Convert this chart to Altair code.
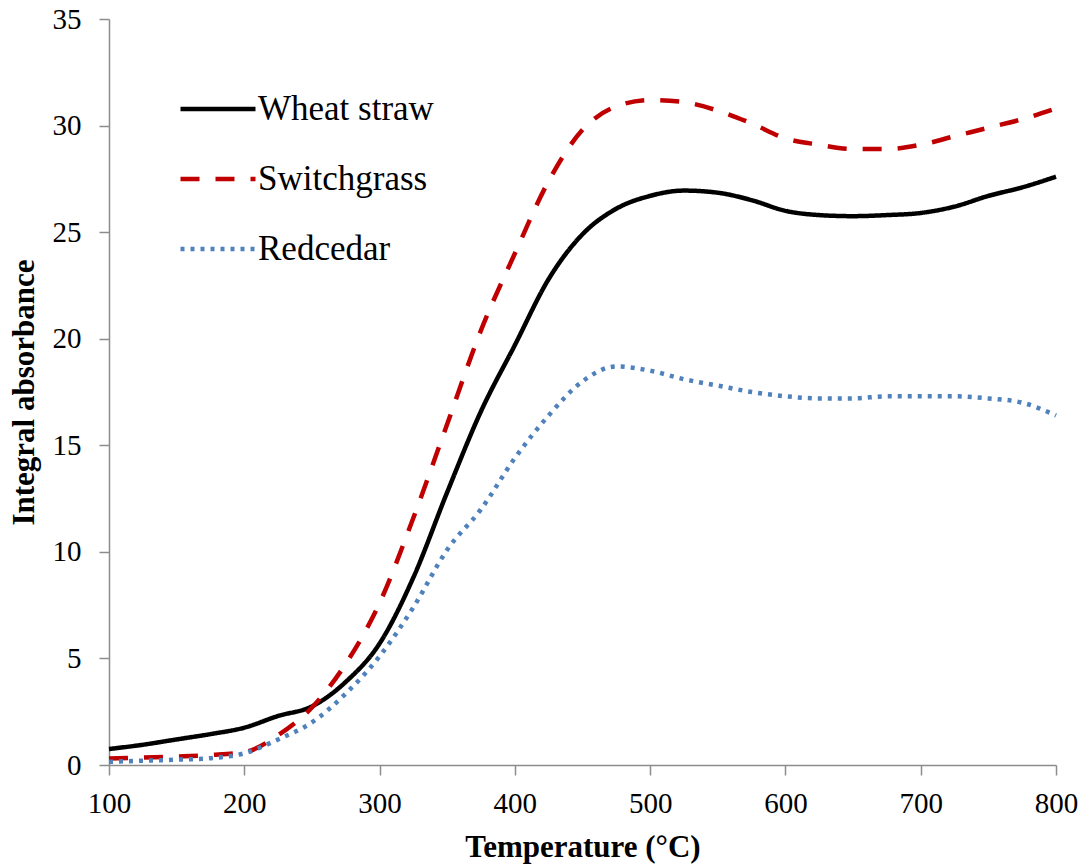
import altair as alt
import pandas as pd

# Temperature grid (°C)
temps = [100, 125, 150, 175, 200, 225, 250, 275, 300, 325, 350, 375, 400, 425,
         450, 475, 500, 525, 550, 575, 600, 625, 650, 675, 700, 725, 750, 775, 800]

# Integral absorbance per feedstock
wheat_straw = [0.75, 0.95, 1.2, 1.45, 1.75, 2.3, 2.75, 3.9, 5.7, 8.8, 12.8, 16.6,
               19.7, 22.8, 24.9, 26.1, 26.7, 26.95, 26.85, 26.5, 26.0, 25.8, 25.75,
               25.8, 25.9, 26.2, 26.7, 27.1, 27.6]
switchgrass = [0.3, 0.35, 0.4, 0.47, 0.6, 1.4, 2.7, 4.75, 7.6, 11.6, 16.0, 20.4,
               24.0, 27.4, 29.8, 30.9, 31.2, 31.1, 30.7, 30.1, 29.4, 29.1, 28.9,
               28.9, 29.1, 29.5, 29.9, 30.3, 30.8]
redcedar = [0.15, 0.2, 0.25, 0.32, 0.55, 1.2, 2.0, 3.35, 5.1, 7.4, 10.1, 12.0,
            14.4, 16.4, 18.0, 18.7, 18.5, 18.1, 17.8, 17.5, 17.3, 17.2, 17.2,
            17.3, 17.3, 17.3, 17.2, 17.0, 16.4]

series_names = ["Wheat straw", "Switchgrass", "Redcedar"]
series_colors = ["#000000", "#C00000", "#4F81BD"]
series_dashes = [[1, 0], [19, 16], [4, 6]]

rows = []
for name, vals in zip(series_names, [wheat_straw, switchgrass, redcedar]):
    for t, v in zip(temps, vals):
        rows.append({"Temperature": t, "Absorbance": v, "Sample": name})
df = pd.DataFrame(rows)

FONT = "Liberation Serif"

chart = alt.Chart(df).mark_line(
    strokeWidth=4.5, strokeCap="butt", interpolate="monotone"
).encode(
    x=alt.X("Temperature:Q",
            scale=alt.Scale(domain=[100, 800], nice=False, zero=False),
            axis=alt.Axis(title="Temperature (°C)", values=list(range(100, 801, 100)),
                          grid=False, tickSize=10, labelPadding=14, labelFlush=False,
                          titlePadding=14)),
    y=alt.Y("Absorbance:Q",
            scale=alt.Scale(domain=[0, 35], nice=False),
            axis=alt.Axis(title="Integral absorbance", values=list(range(0, 36, 5)),
                          grid=False, tickSize=10, labelPadding=18,
                          titlePadding=12)),
    color=alt.Color("Sample:N",
                    scale=alt.Scale(domain=series_names, range=series_colors),
                    legend=alt.Legend(title=None, orient="none", legendX=69, legendY=50,
                                      symbolType="stroke", symbolSize=5625,
                                      symbolStrokeWidth=4.5, rowPadding=12,
                                      labelFontSize=35, labelFont=FONT,
                                      labelColor="#000000", labelOffset=0,
                                      labelLimit=400, padding=0)),
    strokeDash=alt.StrokeDash("Sample:N",
                              scale=alt.Scale(domain=series_names, range=series_dashes),
                              legend=None),
).properties(
    width=947,
    height=746,
    background="#FFFFFF",
    autosize=alt.AutoSizeParams(type="none"),
    padding={"left": 109, "top": 19, "right": 32, "bottom": 102},
).configure(
    font=FONT
).configure_view(
    stroke=None
).configure_legend(
    labelFont=FONT,
    labelFontSize=35,
    labelColor="#000000",
).configure_axis(
    domainColor="#8C8C8C",
    tickColor="#8C8C8C",
    domainWidth=1.5,
    tickWidth=1.5,
    labelFont=FONT,
    labelFontSize=29,
    labelColor="#000000",
    titleFont=FONT,
    titleFontSize=31,
    titleFontWeight="bold",
    titleColor="#000000",
)

chart.save("out.html", embed_options={"renderer": "svg", "actions": False})
